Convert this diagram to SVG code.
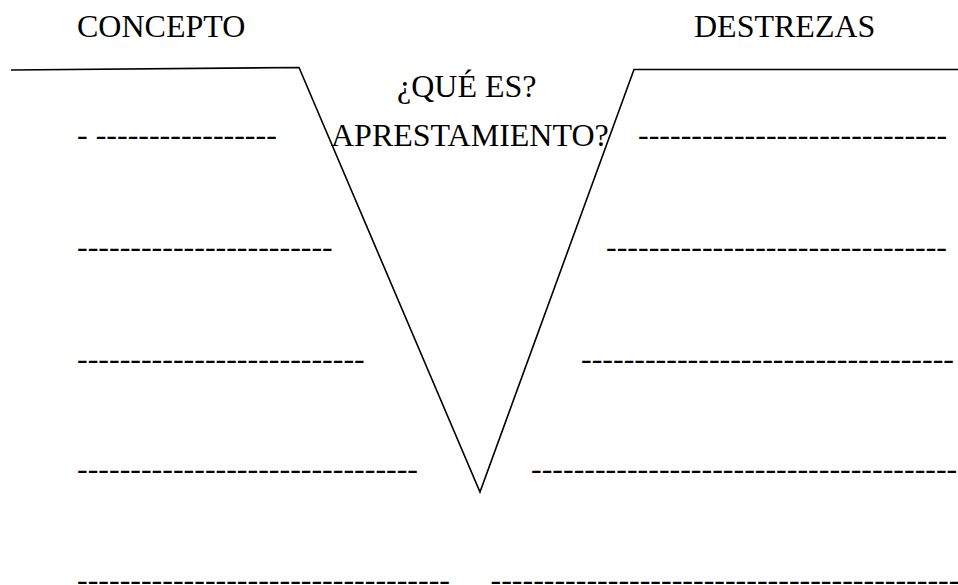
<svg xmlns="http://www.w3.org/2000/svg" width="958" height="585" viewBox="0 0 958 585">
<style>
text{font-family:"Liberation Serif","Times New Roman",serif;font-size:32px;fill:#000}
.ln{fill:none;stroke:#000;stroke-width:1.6;stroke-linejoin:miter}
</style>
<rect width="958" height="585" fill="#fff"/>
<g id="headers">
<text x="77" y="37">CONCEPTO</text>
<text x="694" y="37">DESTREZAS</text>
</g>
<g id="v-shape">
<polyline class="ln" points="11,70 299,67.5 480,492 634,69.5 958,69.5"/>
</g>
<g id="question">
<text x="397" y="97">¿QUÉ ES?</text>
<text x="331" y="146">APRESTAMIENTO?</text>
</g>
<g id="concept-lines">
<text x="77" y="145">- -----------------</text>
<text x="77" y="257">------------------------</text>
<text x="77" y="368.5">---------------------------</text>
<text x="77" y="479">--------------------------------</text>
<text x="77" y="590">-----------------------------------</text>
</g>
<g id="skill-lines">
<text x="638" y="145">-----------------------------</text>
<text x="606" y="257">--------------------------------</text>
<text x="581" y="368.5">-----------------------------------</text>
<text x="531" y="479">----------------------------------------</text>
<text x="490.5" y="590">--------------------------------------------</text>
</g>
</svg>
